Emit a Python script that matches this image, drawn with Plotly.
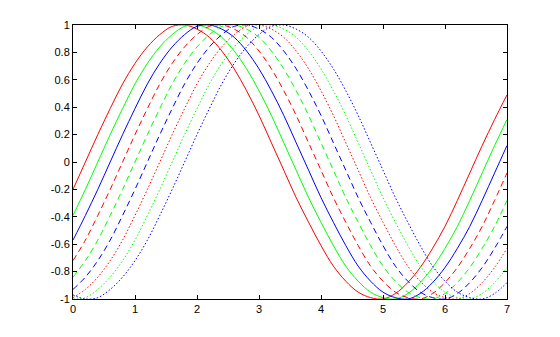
import plotly.graph_objects as go

x = [round(0.2 * i, 1) for i in range(36)]

red_solid = [-0.20, 0.00, 0.20, 0.39, 0.57, 0.72, 0.84, 0.93, 0.99, 1.00, 0.97, 0.91, 0.81, 0.68, 0.52, 0.34, 0.14, -0.06, -0.26, -0.44, -0.61, -0.76, -0.87, -0.95, -0.99, -1.00, -0.96, -0.88, -0.77, -0.63, -0.47, -0.28, -0.08, 0.12, 0.31, 0.49]
green_solid = [-0.39, -0.20, 0.00, 0.20, 0.39, 0.57, 0.72, 0.84, 0.93, 0.99, 1.00, 0.97, 0.91, 0.81, 0.68, 0.52, 0.34, 0.14, -0.06, -0.26, -0.44, -0.61, -0.76, -0.87, -0.95, -0.99, -1.00, -0.96, -0.88, -0.77, -0.63, -0.47, -0.28, -0.08, 0.12, 0.31]
blue_solid = [-0.57, -0.39, -0.20, 0.00, 0.20, 0.39, 0.57, 0.72, 0.84, 0.93, 0.99, 1.00, 0.97, 0.91, 0.81, 0.68, 0.52, 0.34, 0.14, -0.06, -0.26, -0.44, -0.61, -0.76, -0.87, -0.95, -0.99, -1.00, -0.96, -0.88, -0.77, -0.63, -0.47, -0.28, -0.08, 0.12]
red_dashed = [-0.72, -0.57, -0.39, -0.20, 0.00, 0.20, 0.39, 0.57, 0.72, 0.84, 0.93, 0.99, 1.00, 0.97, 0.91, 0.81, 0.68, 0.52, 0.34, 0.14, -0.06, -0.26, -0.44, -0.61, -0.76, -0.87, -0.95, -0.99, -1.00, -0.96, -0.88, -0.77, -0.63, -0.47, -0.28, -0.08]
green_dashed = [-0.84, -0.72, -0.57, -0.39, -0.20, 0.00, 0.20, 0.39, 0.57, 0.72, 0.84, 0.93, 0.99, 1.00, 0.97, 0.91, 0.81, 0.68, 0.52, 0.34, 0.14, -0.06, -0.26, -0.44, -0.61, -0.76, -0.87, -0.95, -0.99, -1.00, -0.96, -0.88, -0.77, -0.63, -0.47, -0.28]
blue_dashed = [-0.93, -0.84, -0.72, -0.57, -0.39, -0.20, 0.00, 0.20, 0.39, 0.57, 0.72, 0.84, 0.93, 0.99, 1.00, 0.97, 0.91, 0.81, 0.68, 0.52, 0.34, 0.14, -0.06, -0.26, -0.44, -0.61, -0.76, -0.87, -0.95, -0.99, -1.00, -0.96, -0.88, -0.77, -0.63, -0.47]
red_dotted = [-0.99, -0.93, -0.84, -0.72, -0.57, -0.39, -0.20, 0.00, 0.20, 0.39, 0.57, 0.72, 0.84, 0.93, 0.99, 1.00, 0.97, 0.91, 0.81, 0.68, 0.52, 0.34, 0.14, -0.06, -0.26, -0.44, -0.61, -0.76, -0.87, -0.95, -0.99, -1.00, -0.96, -0.88, -0.77, -0.63]
green_dotted = [-1.00, -0.99, -0.93, -0.84, -0.72, -0.57, -0.39, -0.20, 0.00, 0.20, 0.39, 0.57, 0.72, 0.84, 0.93, 0.99, 1.00, 0.97, 0.91, 0.81, 0.68, 0.52, 0.34, 0.14, -0.06, -0.26, -0.44, -0.61, -0.76, -0.87, -0.95, -0.99, -1.00, -0.96, -0.88, -0.77]
blue_dotted = [-0.97, -1.00, -0.99, -0.93, -0.84, -0.72, -0.57, -0.39, -0.20, 0.00, 0.20, 0.39, 0.57, 0.72, 0.84, 0.93, 0.99, 1.00, 0.97, 0.91, 0.81, 0.68, 0.52, 0.34, 0.14, -0.06, -0.26, -0.44, -0.61, -0.76, -0.87, -0.95, -0.99, -1.00, -0.96, -0.88]

series = [
    (red_solid, "#ff0000", "solid", 1.0),
    (green_solid, "#00ff00", "solid", 1.0),
    (blue_solid, "#0000ff", "solid", 1.0),
    (red_dashed, "#ff0000", "6px,4px", 1.0),
    (green_dashed, "#00ff00", "6px,4px", 1.0),
    (blue_dashed, "#0000ff", "6px,4px", 1.0),
    (red_dotted, "#ff0000", "1.5px,2px", 1.0),
    (green_dotted, "#00ff00", "1.5px,2px", 1.0),
    (blue_dotted, "#0000ff", "1.5px,2px", 1.0),
]

x_ticks = [0, 1, 2, 3, 4, 5, 6, 7]
y_ticks = [-1, -0.8, -0.6, -0.4, -0.2, 0, 0.2, 0.4, 0.6, 0.8, 1]
y_labels = ["-1", "-0.8", "-0.6", "-0.4", "-0.2", "0", "0.2", "0.4", "0.6", "0.8", "1"]

fig = go.Figure()
for ys, color, dash, w in series:
    fig.add_trace(go.Scatter(x=x, y=ys, mode="lines",
                             line=dict(color=color, width=w, dash=dash, shape="spline", smoothing=1.0),
                             showlegend=False, hoverinfo="skip"))

axis_common = dict(showgrid=False, zeroline=False, showline=True, linecolor="black", linewidth=1,
                   mirror="ticks", ticks="inside", ticklen=4, tickcolor="black",
                   tickfont=dict(family="Arial, Liberation Sans", size=11, color="black"))

fig.update_layout(
    width=560, height=337,
    margin=dict(l=73, r=53, t=25, b=38),
    paper_bgcolor="white", plot_bgcolor="white",
    xaxis=dict(range=[0, 7], tickvals=x_ticks, ticktext=[str(v) for v in x_ticks], **axis_common),
    yaxis=dict(range=[-1, 1], tickvals=y_ticks, ticktext=y_labels, **axis_common),
)

fig.write_html("out.html")
